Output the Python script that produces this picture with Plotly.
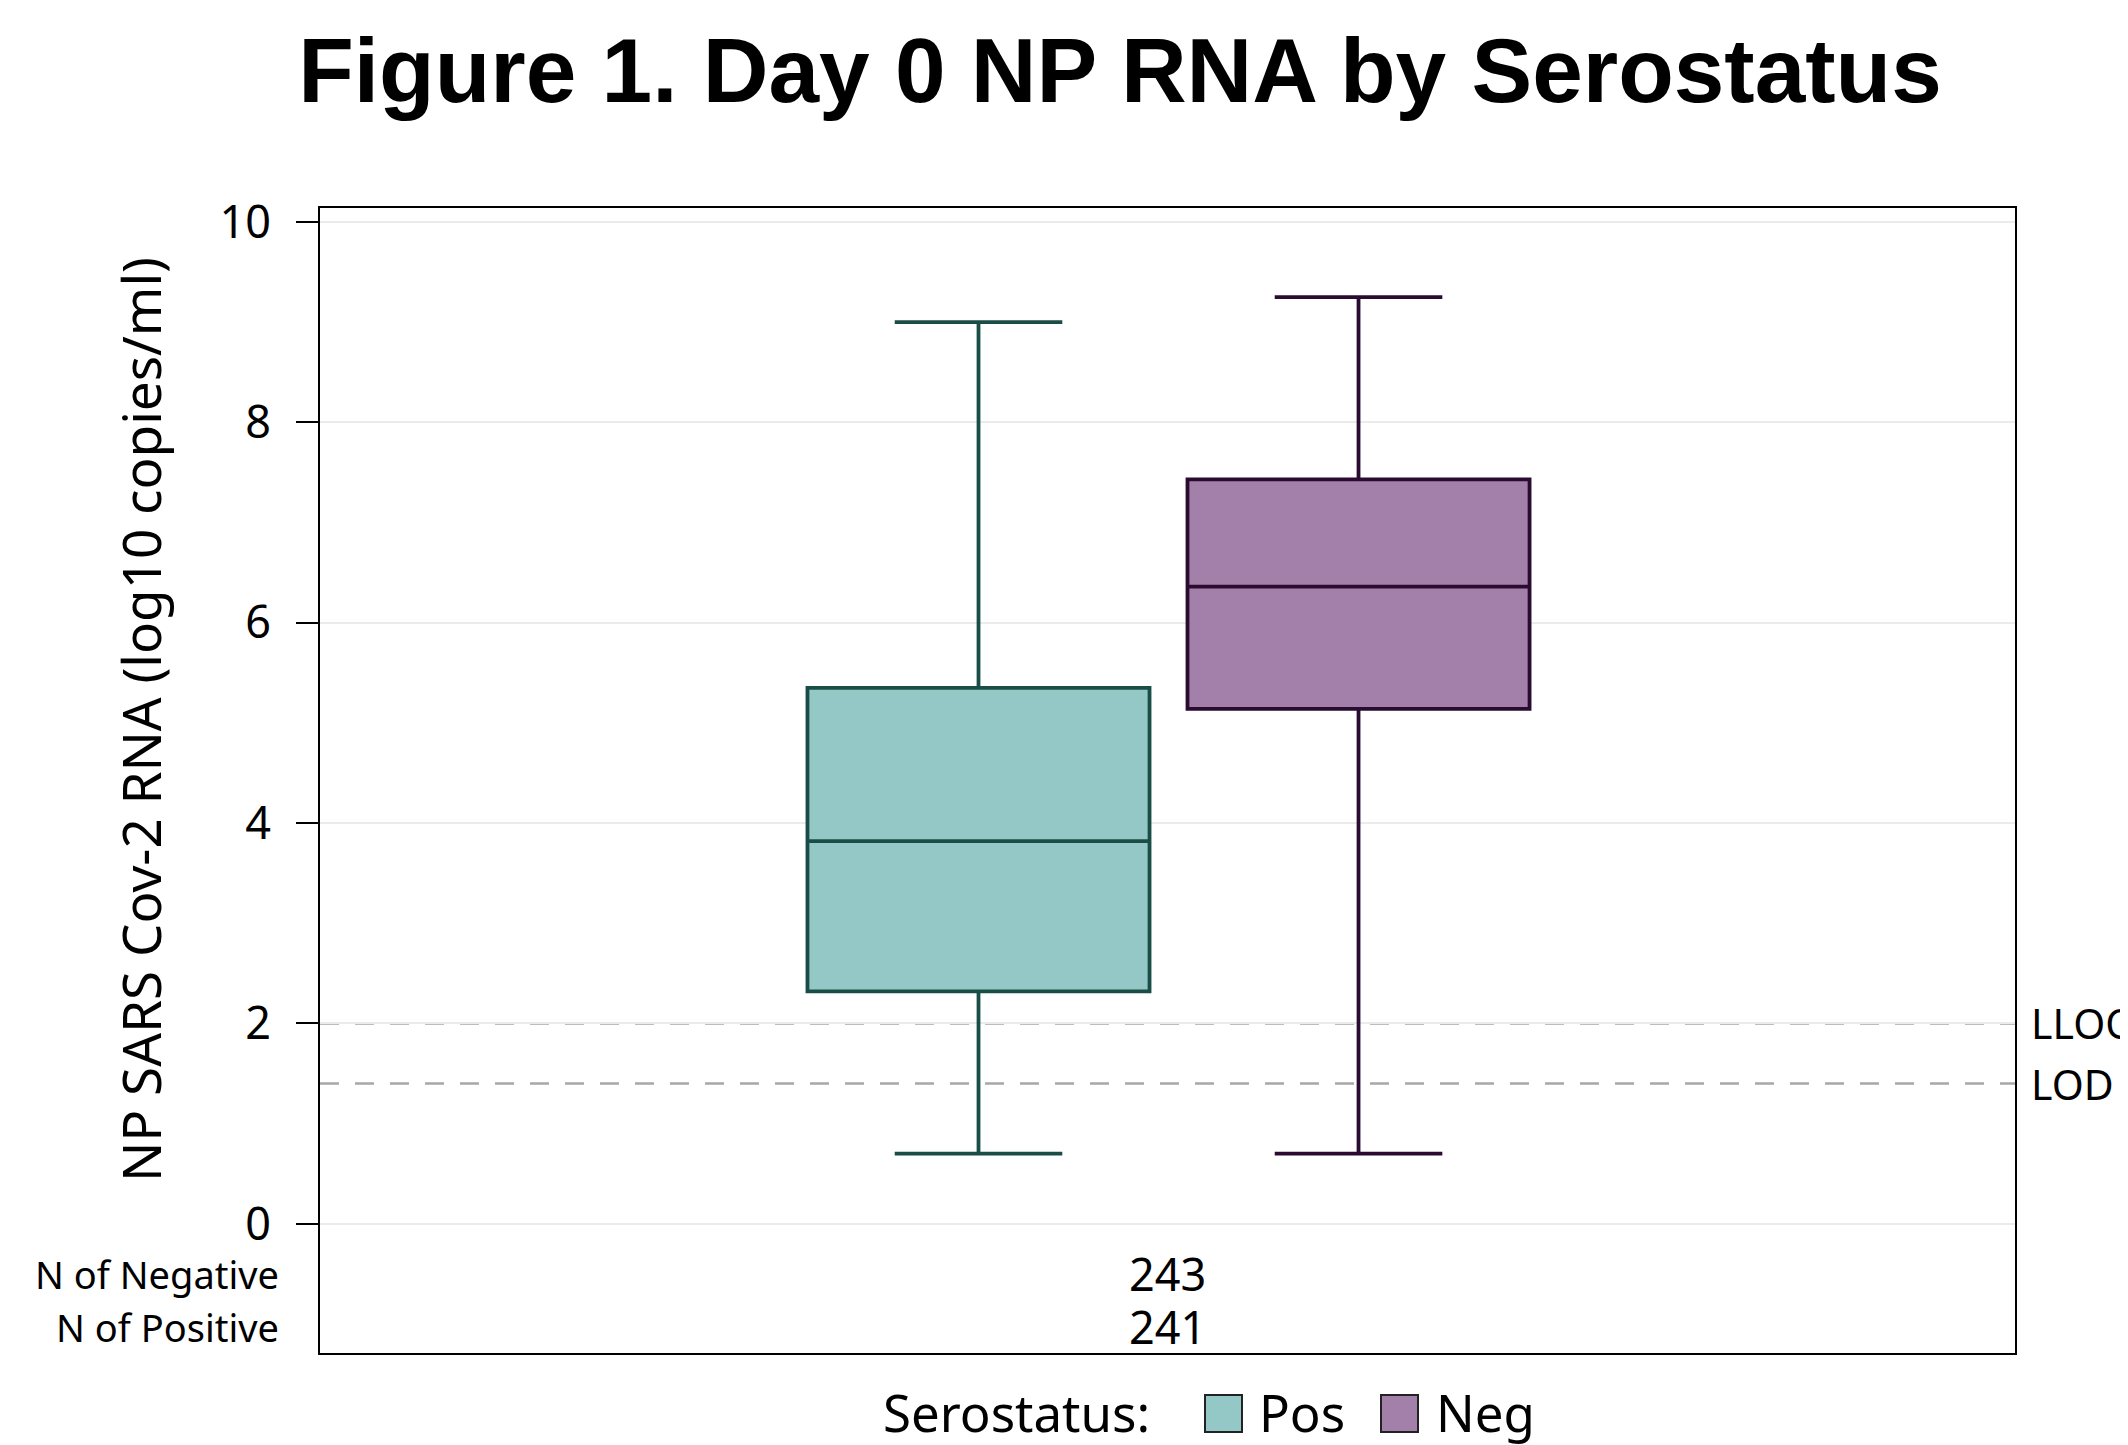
import plotly.graph_objects as go

# ---------------- data ----------------
groups = ["Pos", "Neg"]
q1_vals = [2.32, 5.14]
median_vals = [3.82, 6.36]
q3_vals = [5.35, 7.43]
lower_vals = [0.70, 0.70]
upper_vals = [9.00, 9.25]
box_positions = [0.3885, 0.6127]

fill_colors = ["#93c8c7", "#a380a9"]
line_colors = ["#1b4d47", "#2b0c31"]

n_labels = ["N of Negative", "N of Positive"]
n_values = [243, 241]
n_rows_y = [-0.5, -1.03]

ref_names = ["LLOQ", "LOD"]
ref_values = [2.0, 1.4]

y_ticks = [0, 2, 4, 6, 8, 10]

# ---------------- layout geometry ----------------
# page body has an 8px margin; the figure is placed at (8, 8)
OFF = 8
PAGE_W, PAGE_H = 2128, 1445
W, H = PAGE_W - OFF, PAGE_H - OFF
PL, PR, PT, PB = 320, 2015, 208, 1353          # plot frame in page pixels
L, R, T, B = PL - OFF, PAGE_W - PR, PT - OFF, PAGE_H - PB
PW, PH = PR - PL, PB - PT


def px_x(px):
    return (px - PL) / PW


def px_y(py):
    return (PB - py) / PH


FONT = "Noto Sans, Open Sans, DejaVu Sans, sans-serif"

fig = go.Figure()
for g, q1, md, q3, lo, hi, xp, fc, lc in zip(groups, q1_vals, median_vals, q3_vals,
                                              lower_vals, upper_vals, box_positions,
                                              fill_colors, line_colors):
    fig.add_trace(go.Box(
        name=g, x=[xp], q1=[q1], median=[md], q3=[q3],
        lowerfence=[lo], upperfence=[hi],
        width=0.2018, whiskerwidth=0.49,
        fillcolor=fc, line=dict(color=lc, width=3.8),
        boxpoints=False, showlegend=False, hoverinfo="skip",
    ))

shapes = []
annotations = []

# reference lines
for nm, v in zip(ref_names, ref_values):
    shapes.append(dict(type="line", xref="paper", yref="y", x0=0, x1=1, y0=v, y1=v,
                       line=dict(color="#a8a8a8", width=2.6, dash="19px,16px"), layer="between"))
    annotations.append(dict(text=nm, xref="paper", yref="y", x=px_x(2029), y=v,
                            xanchor="left", yanchor="middle", showarrow=False,
                            font=dict(family=FONT, size=41, color="#000")))

# N table
for lab, val, yy in zip(n_labels, n_values, n_rows_y):
    annotations.append(dict(text=lab, xref="paper", yref="y", x=px_x(281), y=yy,
                            xanchor="right", yanchor="middle", showarrow=False,
                            font=dict(family=FONT, size=38, color="#000")))
    annotations.append(dict(text=str(val), xref="paper", yref="y", x=0.5, y=yy,
                            xanchor="center", yanchor="middle", showarrow=False,
                            font=dict(family=FONT, size=45, color="#000")))

# y-axis title
annotations.append(dict(text="NP SARS Cov-2 RNA (log10 copies/ml)", xref="paper", yref="paper",
                        x=px_x(140), y=px_y(720), textangle=-90, showarrow=False,
                        xanchor="center", yanchor="middle",
                        font=dict(family=FONT, size=53, color="#000")))

# legend (manual)
leg_y = px_y(1412)
annotations.append(dict(text="Serostatus:", xref="paper", yref="paper", x=px_x(1152), y=leg_y,
                        xanchor="right", yanchor="middle", showarrow=False,
                        font=dict(family=FONT, size=51, color="#000")))
for g, fc, sx, tx in zip(groups, fill_colors, [1205, 1381], [1257, 1434]):
    shapes.append(dict(type="rect", xref="paper", yref="paper",
                       x0=px_x(sx), x1=px_x(sx + 37), y0=px_y(1432), y1=px_y(1395),
                       fillcolor=fc, line=dict(color="#222", width=2)))
    annotations.append(dict(text=g, xref="paper", yref="paper", x=px_x(tx), y=leg_y,
                            xanchor="left", yanchor="middle", showarrow=False,
                            font=dict(family=FONT, size=51, color="#000")))

fig.update_layout(
    width=W, height=H,
    margin=dict(l=L, r=R, t=T, b=B, autoexpand=False),
    paper_bgcolor="white", plot_bgcolor="white",
    title=dict(text="<b>Figure 1. Day 0 NP RNA by Serostatus</b>",
               x=(1120 - OFF) / W, xanchor="center", xref="container",
               y=1 - (70 - OFF) / H, yanchor="middle", yref="container",
               font=dict(family="Liberation Sans, Arial, sans-serif", size=91, color="#000")),
    shapes=shapes, annotations=annotations,
    showlegend=False,
    xaxis=dict(range=[0, 1], showticklabels=False, ticks="", showgrid=False, zeroline=False,
               showline=True, linecolor="#000", linewidth=2, mirror=True, fixedrange=True),
    yaxis=dict(range=[-1.29, 10.14], tickvals=y_ticks, ticks="outside", ticklen=22,
               tickwidth=2, tickcolor="#000", ticklabelstandoff=16,
               tickfont=dict(family=FONT, size=45, color="#000"),
               showgrid=True, gridcolor="#ebebeb", gridwidth=1.5, zeroline=False,
               showline=True, linecolor="#000", linewidth=2, mirror=True, fixedrange=True),
)

fig.write_html("out.html")
